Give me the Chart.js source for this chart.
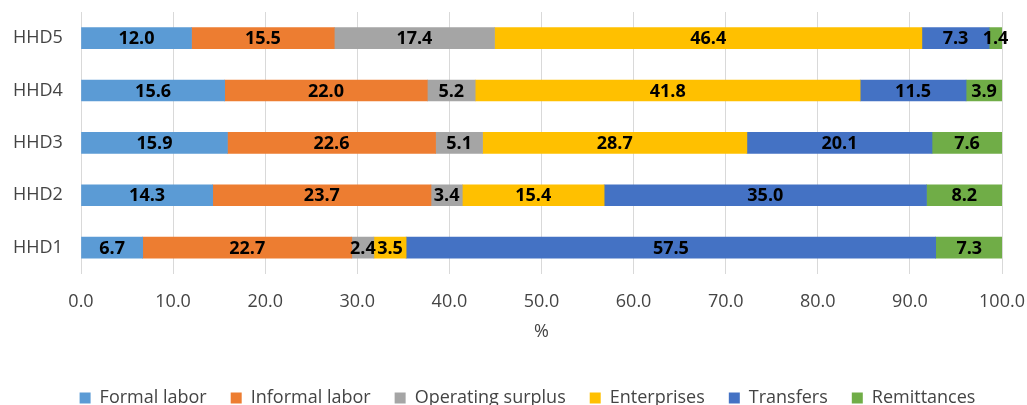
<!DOCTYPE html>
<html>
<head>
<meta charset="utf-8">
<title>Income sources by household group</title>
<script src="https://cdn.jsdelivr.net/npm/chart.js@4.4.0/dist/chart.umd.min.js"></script>
<style>
  html, body { margin: 0; padding: 0; background: #fff; overflow: hidden; }
  #wrap { width: 1027px; height: 405px; overflow: hidden; }
</style>
</head>
<body>
<div id="wrap">
  <canvas id="chartId" width="1027" height="417"></canvas>
</div>
<script>
// household groups, top to bottom
const households = ["HHD5", "HHD4", "HHD3", "HHD2", "HHD1"];

// share of income by source (%), same order as households
const formalLabor = [12.0, 15.6, 15.9, 14.3, 6.7];
const informalLabor = [15.5, 22.0, 22.6, 23.7, 22.7];
const operatingSurplus = [17.4, 5.2, 5.1, 3.4, 2.4];
const enterprises = [46.4, 41.8, 28.7, 15.4, 3.5];
const transfers = [7.3, 11.5, 20.1, 35.0, 57.5];
const remittances = [1.4, 3.9, 7.6, 8.2, 7.3];

const xTicks = [0, 10, 20, 30, 40, 50, 60, 70, 80, 90, 100];

Chart.defaults.font.family = "'Open Sans', sans-serif";
Chart.defaults.font.size = 18;
Chart.defaults.color = "#444444";

function series(label, data, color) {
  return {
    label: label,
    data: data,
    backgroundColor: color,
    borderWidth: 0,
    barThickness: 21,
  };
}

// writes the value in the middle of every segment
const segmentLabels = {
  id: "segmentLabels",
  afterDatasetsDraw(chart) {
    const ctx = chart.ctx;
    ctx.save();
    ctx.font = "bold 18px 'Open Sans', sans-serif";
    ctx.fillStyle = "#000";
    ctx.textAlign = "center";
    ctx.textBaseline = "middle";
    chart.data.datasets.forEach((ds, i) => {
      const meta = chart.getDatasetMeta(i);
      meta.data.forEach((bar, j) => {
        const p = bar.getCenterPoint();
        ctx.fillText(ds.data[j].toFixed(1), p.x, p.y + 1);
      });
    });
    ctx.restore();
  },
};

const chrt = document.getElementById("chartId").getContext("2d");
const chartId = new Chart(chrt, {
  type: "bar",
  data: {
    labels: households,
    datasets: [
      series("Formal labor", formalLabor, "#5B9BD5"),
      series("Informal labor", informalLabor, "#ED7D31"),
      series("Operating surplus", operatingSurplus, "#A5A5A5"),
      series("Enterprises", enterprises, "#FFC000"),
      series("Transfers", transfers, "#4472C4"),
      series("Remittances", remittances, "#70AD47"),
    ],
  },
  options: {
    indexAxis: "y",
    responsive: false,
    animation: false,
    layout: {
      padding: { left: 53, right: 25, top: 12, bottom: 0 },
    },
    plugins: {
      legend: {
        position: "bottom",
        labels: {
          boxWidth: 11,
          boxHeight: 11,
          padding: 24,
          color: "#444444",
        },
      },
      tooltip: { enabled: false },
    },
    scales: {
      x: {
        stacked: true,
        min: 0,
        max: 100,
        afterBuildTicks: (scale) => {
          scale.ticks = xTicks.map((v) => ({ value: v }));
        },
        ticks: {
          padding: 0,
          callback: (v) => Number(v).toFixed(1),
        },
        grid: {
          color: "#d9d9d9",
          tickColor: "rgba(0,0,0,0)",
          tickLength: 17,
        },
        border: { display: false },
        title: {
          display: true,
          text: "%",
          color: "#444444",
          padding: { top: 9, bottom: 22 },
        },
      },
      y: {
        stacked: true,
        grid: { display: false, drawTicks: false },
        border: { display: false },
        // labels sit left-aligned at x = 13, outside the narrow axis box
        ticks: { mirror: true, padding: -68, color: "#444444" },
        afterFit: (scale) => {
          scale.width = 28;
        },
      },
    },
  },
  plugins: [segmentLabels],
});
</script>
</body>
</html>
